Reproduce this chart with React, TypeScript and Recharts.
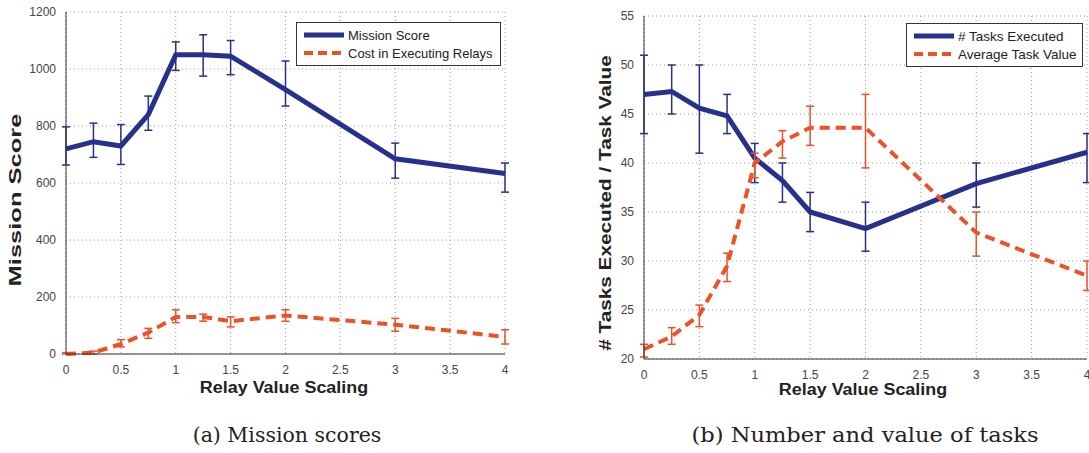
import { CartesianGrid, ErrorBar, Line, LineChart, XAxis, YAxis } from "recharts";

const relayScale = [0, 0.25, 0.5, 0.75, 1, 1.25, 1.5, 2, 3, 4];
const xTicks = [0, 0.5, 1, 1.5, 2, 2.5, 3, 3.5, 4];

// (a) mission scores
const missionScore = [720, 745, 730, 840, 1050, 1050, 1045, 928, 685, 633];
const missionLow = [663, 690, 665, 785, 995, 975, 980, 870, 617, 568];
const missionHigh = [797, 810, 805, 905, 1095, 1120, 1100, 1028, 740, 670];
const relayCost = [0, 5, 35, 75, 130, 130, 115, 135, 103, 60];
const costLow = [0, 0, 25, 55, 110, 115, 95, 115, 80, 35];
const costHigh = [5, 10, 50, 90, 155, 140, 130, 155, 125, 85];
const scoreTicks = [0, 200, 400, 600, 800, 1000, 1200];

// (b) tasks
const tasksExecuted = [47, 47.3, 45.6, 44.8, 40.5, 38.2, 35, 33.3, 37.9, 41.1];
const tasksLow = [43, 45, 41, 43, 38, 36, 33, 31, 35.5, 38];
const tasksHigh = [51, 50, 50, 47, 42, 40, 37, 36, 40, 43];
const taskValue = [21, 22.3, 24.5, 29.5, 40, 42.2, 43.6, 43.6, 32.9, 28.5];
const valueLow = [20.2, 21.5, 23.3, 27.9, 38.5, 40.5, 41.8, 39.5, 30.5, 27];
const valueHigh = [21.5, 23.2, 25.5, 30.8, 41, 43.3, 45.8, 47, 35, 30];
const taskTicks = [20, 25, 30, 35, 40, 45, 50, 55];

const BLUE = "#27318c";
const RED = "#ea5228";
const SANS = "'Liberation Sans', Arial, sans-serif";
const SERIF = "'DejaVu Serif', 'Liberation Serif', serif";

function rows(a: number[], aLo: number[], aHi: number[], b: number[], bLo: number[], bHi: number[]) {
  return relayScale.map((x, i) => ({
    x,
    a: a[i],
    aErr: [a[i] - aLo[i], aHi[i] - a[i]],
    b: b[i],
    bErr: [b[i] - bLo[i], bHi[i] - b[i]],
  }));
}

const scoreData = rows(missionScore, missionLow, missionHigh, relayCost, costLow, costHigh);
const taskData = rows(tasksExecuted, tasksLow, tasksHigh, taskValue, valueLow, valueHigh);

function Panel({ data, yDomain, yTicks, width, margin, yWidth }: {
  data: any[]; yDomain: [number, number]; yTicks: number[]; width: number;
  margin: { top: number; right: number; bottom: number; left: number }; yWidth: number;
}) {
  const tick = { fontSize: 12, fill: "#444", fontFamily: SANS };
  return (
    <LineChart width={width} height={400} data={data} margin={margin}>
      <CartesianGrid stroke="#9a9a9a" strokeDasharray="1 3" />
      <XAxis dataKey="x" type="number" domain={[0, 4]} ticks={xTicks} tick={tick} tickLine={false}
        axisLine={{ stroke: "#333" }} tickMargin={5} height={30} interval={0} />
      <YAxis type="number" domain={yDomain} ticks={yTicks} tick={tick} tickLine={false}
        axisLine={{ stroke: "#333" }} tickMargin={4} width={yWidth} interval={0} />
      <Line dataKey="a" stroke={BLUE} strokeWidth={5} dot={false} isAnimationActive={false}>
        <ErrorBar dataKey="aErr" width={4} stroke={BLUE} strokeWidth={1.5} />
      </Line>
      <Line dataKey="b" stroke={RED} strokeWidth={4} strokeDasharray="10 6" dot={false} isAnimationActive={false}>
        <ErrorBar dataKey="bErr" width={4} stroke={RED} strokeWidth={1.5} />
      </Line>
    </LineChart>
  );
}

function LegendBox({ left, top, width, fontSize, items }: {
  left: number; top: number; width: number; fontSize: number; items: string[];
}) {
  return (
    <div style={{ position: "absolute", left, top, width, background: "#fff", border: "1px solid #333",
      padding: "3px 0 3px 7px", boxSizing: "border-box", fontFamily: SANS, fontSize, color: "#222" }}>
      {items.map((label, i) => (
        <div key={label} style={{ display: "flex", alignItems: "center", height: 18, whiteSpace: "nowrap" }}>
          <svg width={40} height={8} style={{ marginRight: 4, flex: "none" }}>
            <line x1={0} y1={4} x2={40} y2={4} stroke={i === 0 ? BLUE : RED} strokeWidth={i === 0 ? 5 : 4}
              strokeDasharray={i === 0 ? undefined : "9 5"} />
          </svg>
          {label}
        </div>
      ))}
    </div>
  );
}

const axisTitle = { position: "absolute" as const, fontFamily: SANS, fontWeight: 700, fontSize: 16, color: "#222", whiteSpace: "nowrap" as const };
const caption = { position: "absolute" as const, fontFamily: SERIF, fontSize: 20.5, color: "#222", whiteSpace: "nowrap" as const };

export default function App() {
  return (
    <div style={{ position: "absolute", left: 0, top: 0, width: 1089, height: 453, background: "#fff", overflow: "hidden" }}>
      <div style={{ position: "absolute", left: 0, top: 0 }}>
        <Panel data={scoreData} yDomain={[0, 1200]} yTicks={scoreTicks} width={540} yWidth={46}
          margin={{ top: 12, right: 35, bottom: 16, left: 20 }} />
      </div>
      <div style={{ position: "absolute", left: 560, top: 0 }}>
        <Panel data={taskData} yDomain={[20, 55]} yTicks={taskTicks} width={529} yWidth={40}
          margin={{ top: 16, right: 2, bottom: 11, left: 44 }} />
      </div>

      <LegendBox left={296} top={22} width={205} fontSize={13} items={["Mission Score", "Cost in Executing Relays"]} />
      <LegendBox left={906} top={23} width={177} fontSize={13.5} items={["# Tasks Executed", "Average Task Value"]} />

      <div style={{ ...axisTitle, left: 284, top: 388, transform: "translate(-50%, -50%) scaleX(1.12)" }}>Relay Value Scaling</div>
      <div style={{ ...axisTitle, left: 863, top: 390, transform: "translate(-50%, -50%) scaleX(1.12)" }}>Relay Value Scaling</div>
      <div style={{ ...axisTitle, fontSize: 17, left: 16, top: 200, transform: "translate(-50%, -50%) rotate(-90deg) scaleX(1.5)" }}>Mission Score</div>
      <div style={{ ...axisTitle, fontSize: 17, left: 606, top: 203, transform: "translate(-50%, -50%) rotate(-90deg) scaleX(1.22)" }}># Tasks Executed / Task Value</div>

      <div style={{ ...caption, left: 287, top: 435, transform: "translate(-50%, -50%)" }}>(a) Mission scores</div>
      <div style={{ ...caption, left: 865, top: 435, transform: "translate(-50%, -50%) scaleX(1.1)" }}>(b) Number and value of tasks</div>
    </div>
  );
}
